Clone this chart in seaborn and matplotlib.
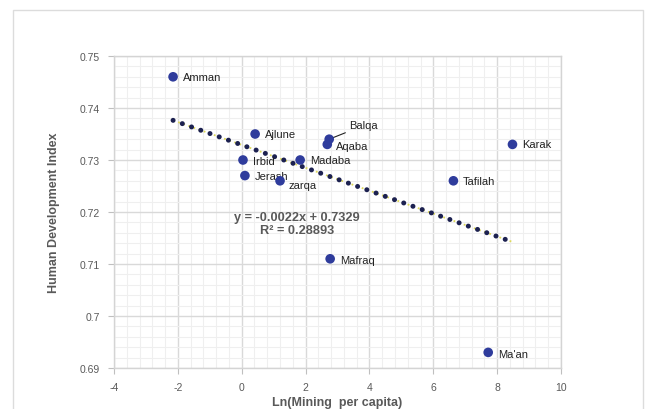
import matplotlib
matplotlib.use('Agg')
import matplotlib.pyplot as plt
import seaborn as sns
import numpy as np
import pandas as pd
from matplotlib.patches import Rectangle
from matplotlib.ticker import MultipleLocator, FormatStrFormatter

# Data
regions = ["Amman", "Ajlune", "Irbid", "Jerash", "zarqa", "Madaba",
           "Balqa", "Aqaba", "Karak", "Tafilah", "Mafraq", "Ma'an"]
ln_mining = [-2.15, 0.42, 0.04, 0.10, 1.20, 1.83, 2.74, 2.68, 8.48, 6.63, 2.77, 7.72]
hdi = [0.746, 0.735, 0.730, 0.727, 0.726, 0.730, 0.734, 0.733, 0.733, 0.726, 0.711, 0.693]

# Trendline from the chart's equation
slope = -0.0022
intercept = 0.7329
r_squared = 0.28893

x_ticks = [-4, -2, 0, 2, 4, 6, 8, 10]
y_ticks = [0.69, 0.70, 0.71, 0.72, 0.73, 0.74, 0.75]

df = pd.DataFrame({"region": regions, "x": ln_mining, "y": hdi})

sns.set_theme(style="white")
plt.rcParams['font.family'] = ['Liberation Sans', 'DejaVu Sans']
plt.rcParams['axes.unicode_minus'] = False

GRAY_TEXT = '#595959'
POINT = '#2f3c9c'

fig = plt.figure(figsize=(6.46, 4.10), dpi=100)
ax = fig.add_axes([114 / 646, 41 / 410, 447 / 646, 312 / 410])

# outer chart frame (runs off the bottom edge)
top = 1 - 11 / 410
fig.add_artist(Rectangle((13 / 646, -0.2), 630 / 646, top + 0.2,
                         transform=fig.transFigure, fill=False,
                         edgecolor='#dcdcdc', linewidth=1.0))

ax.set_xlim(-4, 10)
ax.set_ylim(0.69, 0.75)
ax.xaxis.set_minor_locator(MultipleLocator(0.4))
ax.yaxis.set_minor_locator(MultipleLocator(0.002))
ax.yaxis.set_major_formatter(FormatStrFormatter('%g'))
ax.set_xticks(x_ticks)
ax.set_yticks(y_ticks)
ax.grid(which='major', color='#d9d9d9', linewidth=1.0)
ax.grid(which='minor', color='#efefef', linewidth=0.8)
ax.set_axisbelow(True)
for s in ax.spines.values():
    s.set_color('#d4d4d4')
    s.set_linewidth(1.0)
ax.tick_params(which='major', direction='out', length=4, width=0.8,
               color='#bfbfbf', labelsize=7.5, labelcolor=GRAY_TEXT, pad=6)
ax.tick_params(which='minor', length=0)
ax.tick_params(axis='x', bottom=True)
ax.tick_params(axis='y', left=True)

# trendline: yellow dotted underlay + navy round dots
tx = np.array([min(ln_mining), max(ln_mining)])
ty = slope * tx + intercept
ax.plot(tx, ty, color='#ddd85a', linewidth=1.3, linestyle=(0, (1, 2)), zorder=2)
ax.plot(tx, ty, color='#1c2150', linewidth=3.6, linestyle=(0, (0.01, 1.95)),
        dash_capstyle='round', zorder=3)

sns.scatterplot(data=df, x="x", y="y", ax=ax, color=POINT, s=48,
                edgecolor='none', zorder=4, legend=False)

# label offsets in points
offsets = {
    "Amman": (7, 0), "Ajlune": (7, 0), "Irbid": (7, -0.5), "Jerash": (7, 0),
    "zarqa": (6, -3), "Madaba": (7, 0), "Balqa": (14, 10), "Aqaba": (6, -1),
    "Karak": (7, 0), "Tafilah": (7, 0), "Mafraq": (7, -1), "Ma'an": (7, -1),
}
for name, xv, yv in zip(regions, ln_mining, hdi):
    dx, dy = offsets[name]
    if name == "Balqa":
        ax.annotate(name, (xv, yv), xytext=(dx, dy), textcoords='offset points',
                    fontsize=8, color='#222222', ha='left', va='center',
                    arrowprops=dict(arrowstyle='-', color='#222222', lw=0.8,
                                    shrinkA=0, shrinkB=2,
                                    relpos=(0.1, 0.0)))
    else:
        ax.annotate(name, (xv, yv), xytext=(dx, dy), textcoords='offset points',
                    fontsize=8, color='#222222', ha='left', va='center')

ax.text(1.74, 0.7178, f"y = {slope}x + {intercept}\nR² = {r_squared}",
        ha='center', va='center', multialignment='center', fontsize=9.2,
        fontweight='bold', color=GRAY_TEXT, linespacing=1.15, zorder=5)

ax.set_xlabel("Ln(Mining  per capita)", fontsize=9, fontweight='bold',
              color=GRAY_TEXT, labelpad=3)
ax.set_ylabel("Human Development Index", fontsize=9, fontweight='bold',
              color=GRAY_TEXT, labelpad=14)

fig.savefig("out.png", dpi=100, facecolor='white')
